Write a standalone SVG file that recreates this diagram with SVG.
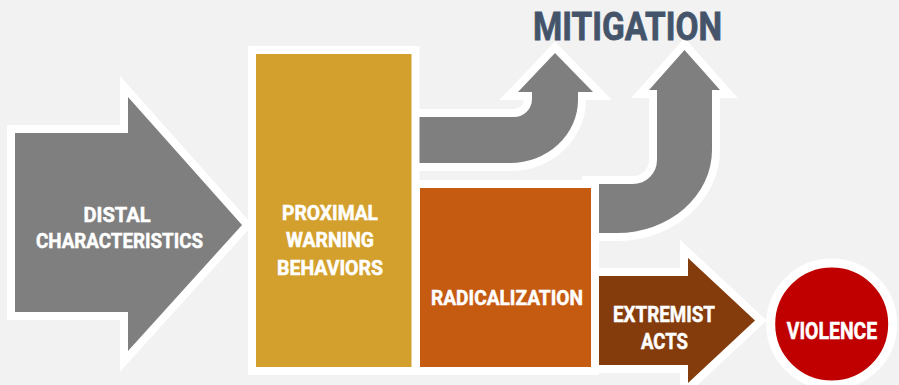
<svg xmlns="http://www.w3.org/2000/svg" width="899" height="385" viewBox="0 0 899 385">
  <style>
    .shape { stroke: #ffffff; stroke-width: 16; stroke-linejoin: miter; stroke-miterlimit: 6; paint-order: stroke fill; }
    .box { stroke: #ffffff; stroke-width: 8; }
    .lbl { font-family: Roboto, "Liberation Sans", sans-serif; font-weight: bold; fill: #ffffff; stroke: #ffffff; stroke-width: 0.5; text-anchor: middle; }
    .title { font-family: Roboto, "Liberation Sans", sans-serif; font-weight: bold; fill: #44546A; stroke: #44546A; stroke-width: 0.8; }
  </style>
  <rect x="0" y="0" width="899" height="385" fill="#F2F2F2"/>

  <!-- connectors: bent arrows leading up to mitigation -->
  <g id="connectors">
    <path id="mitigation-arrow-1" class="shape" fill="#7F7F7F"
          d="M 410,117 L 514,117 A 18 18 0 0 0 532,99 L 532,92 L 518,92 L 555,53 L 593,92 L 578,92 L 578,100 A 68 63 0 0 1 510,163 L 410,163 Z"/>
    <path id="mitigation-arrow-2" class="shape" fill="#7F7F7F"
          d="M 590,184 L 633,184 A 24 24 0 0 0 657,160 L 657,90 L 649,90 L 684.5,50 L 720,90 L 712,90 L 712,150 A 95 83 0 0 1 617,233 L 590,233 Z"/>
  </g>

  <g id="distal">
    <path class="shape" fill="#7F7F7F"
          d="M 15,133 L 128,133 L 128,97 L 242,225 L 128,351 L 128,312 L 15,312 Z"/>
    <text class="lbl" font-size="21" x="117" y="222" textLength="67" lengthAdjust="spacingAndGlyphs">DISTAL</text>
    <text class="lbl" font-size="21" x="119.5" y="248" textLength="167" lengthAdjust="spacingAndGlyphs">CHARACTERISTICS</text>
  </g>

  <g id="proximal">
    <rect class="box" x="252" y="50" width="163.5" height="321" fill="#D3A02D"/>
    <text class="lbl" font-size="20" x="330" y="219.5" textLength="96" lengthAdjust="spacingAndGlyphs">PROXIMAL</text>
    <text class="lbl" font-size="20" x="330" y="247" textLength="88" lengthAdjust="spacingAndGlyphs">WARNING</text>
    <text class="lbl" font-size="20" x="330" y="274.5" textLength="106" lengthAdjust="spacingAndGlyphs">BEHAVIORS</text>
  </g>

  <g id="radicalization">
    <rect class="box" x="416" y="184" width="179" height="187" fill="#C55A11"/>
    <text class="lbl" font-size="21" x="507" y="305" textLength="152" lengthAdjust="spacingAndGlyphs">RADICALIZATION</text>
  </g>

  <g id="extremist-acts">
    <path class="shape" fill="#843C0C"
          d="M 599,276 L 688,276 L 688,258 L 755,320.5 L 688,383 L 688,365 L 599,365 Z"/>
    <text class="lbl" font-size="22" x="664" y="322" textLength="102" lengthAdjust="spacingAndGlyphs">EXTREMIST</text>
    <text class="lbl" font-size="22" x="664.5" y="348.5" textLength="47" lengthAdjust="spacingAndGlyphs">ACTS</text>
  </g>

  <g id="violence">
    <circle cx="831.7" cy="324" r="61" fill="#C00000" stroke="#ffffff" stroke-width="9"/>
    <text class="lbl" font-size="23" x="832" y="338.5" textLength="90.5" lengthAdjust="spacingAndGlyphs">VIOLENCE</text>
  </g>

  <g id="mitigation">
    <text class="title" font-size="39" x="533" y="39.5" textLength="189" lengthAdjust="spacingAndGlyphs">MITIGATION</text>
  </g>
</svg>
